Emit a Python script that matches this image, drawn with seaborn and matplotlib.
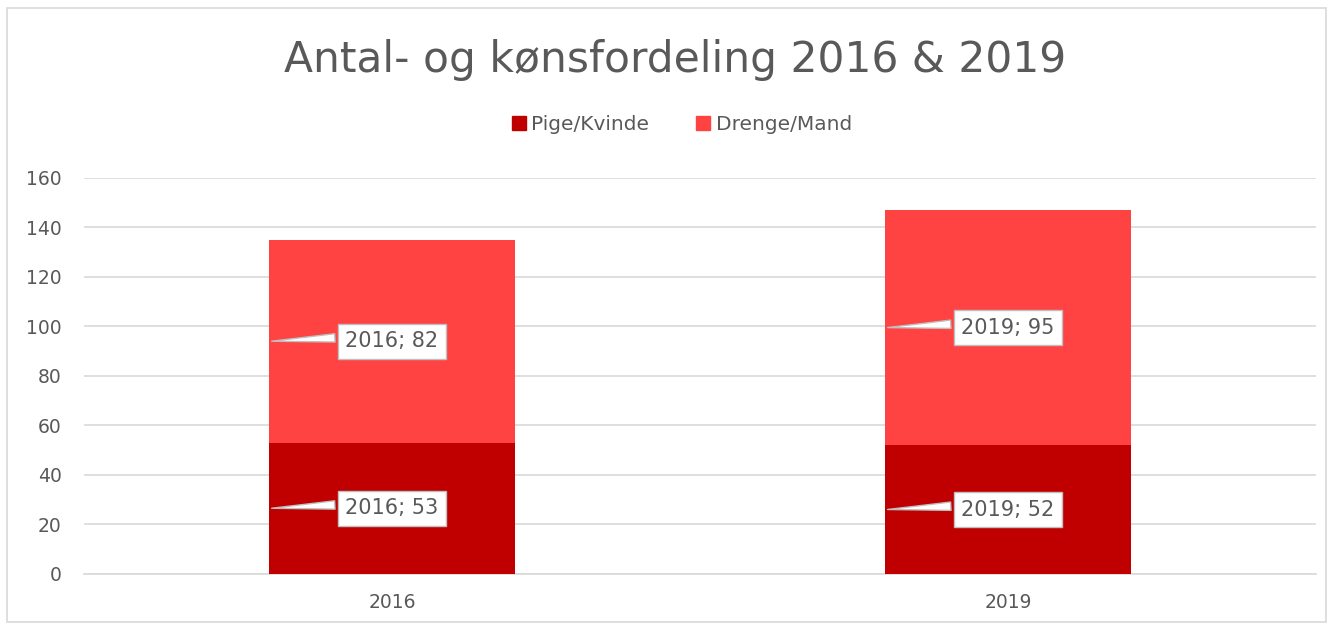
import pandas as pd
import matplotlib.pyplot as plt
import seaborn as sns
from matplotlib.patches import Rectangle
from matplotlib.lines import Line2D

years = ['2016', '2019']
pige = [53, 52]
drenge = [82, 95]

dark_red = '#C00000'
light_red = '#FF4343'
grey = '#595959'

sns.set_theme(style='white')
plt.rcParams['font.family'] = ['DejaVu Sans']

df = pd.DataFrame({'year': years, 'pige': pige, 'drenge': drenge})

fig = plt.figure(figsize=(13.34, 6.3), dpi=100)
ax = fig.add_axes([0.063, 0.0889, 0.9235, 0.6286])

sns.barplot(data=df, x='year', y='pige', color=dark_red, width=0.4,
            saturation=1, errorbar=None, ax=ax, zorder=3, linewidth=0)
sns.barplot(data=df, x='year', y='drenge', bottom=df['pige'].values,
            color=light_red, width=0.4, saturation=1, errorbar=None, ax=ax, zorder=3,
            linewidth=0)

ax.set_ylim(0, 160)
ax.set_xlim(-0.5, 1.5)
ax.set_yticks(range(0, 161, 20))
ax.yaxis.grid(True, color='#D9D9D9', linewidth=1.2, zorder=0)
ax.set_axisbelow(True)
for s in ['top', 'right', 'left']:
    ax.spines[s].set_visible(False)
ax.spines['bottom'].set_color('#D9D9D9')
ax.spines['bottom'].set_linewidth(1.2)
ax.tick_params(axis='both', length=0, labelsize=13.5, labelcolor=grey)
ax.tick_params(axis='x', pad=14)
ax.tick_params(axis='y', pad=16)
ax.set_xlabel('')
ax.set_ylabel('')

# data labels with callouts
for i, yr in enumerate(years):
    for val, mid in [(pige[i], pige[i] / 2), (drenge[i], pige[i] + drenge[i] / 2)]:
        ax.annotate(f'{yr}; {val}', xy=(i - 0.2, mid), xytext=(i, mid),
                    ha='center', va='center', fontsize=15, color=grey, zorder=5,
                    bbox=dict(boxstyle='square,pad=0.35', fc='white', ec='#BFBFBF', lw=1),
                    arrowprops=dict(arrowstyle='wedge,tail_width=0.4,shrink_factor=0.5',
                                    fc='white', ec='#BFBFBF', lw=1, relpos=(0, 0.7)))

fig.text(0.506, 0.905, 'Antal- og kønsfordeling 2016 & 2019', ha='center', va='center',
         fontsize=30.5, color=grey)

handles = [Line2D([], [], marker='s', ls='', color=dark_red, markersize=10),
           Line2D([], [], marker='s', ls='', color=light_red, markersize=10)]
fig.legend(handles, ['Pige/Kvinde', 'Drenge/Mand'], loc='center', bbox_to_anchor=(0.51, 0.802),
           ncol=2, frameon=False, fontsize=14.5, labelcolor=grey, handletextpad=0.1,
           columnspacing=2.2, handlelength=1.0)

fig.patches.append(Rectangle((7 / 1334, 8 / 630), 1319 / 1334, 614 / 630,
                             transform=fig.transFigure, fill=False, ec='#D9D9D9', lw=1.2))

fig.savefig('out.png', dpi=100)
